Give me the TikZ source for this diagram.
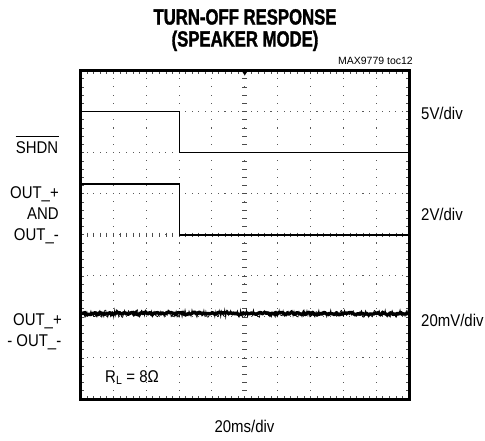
\documentclass[tikz,border=0pt]{standalone}
\usepackage{fontspec}
\setmainfont{Liberation Sans}
\newfontfamily\lblfont[FakeStretch=0.88]{Liberation Sans}
\newfontfamily\ttlfont[FakeStretch=0.76,BoldFeatures={FakeBold=1.5}]{Liberation Sans}
\tikzset{
  lbl/.style={inner sep=0pt, font=\lblfont\fontsize{17}{19}\selectfont},
  ttl/.style={inner sep=0pt, font=\ttlfont\bfseries\fontsize{22}{24}\selectfont},
  small/.style={inner sep=0pt, font=\fontsize{10.5}{12}\selectfont},
  trace/.style={line width=1.4pt, black},
  frame/.style={line width=3pt, black},
  tick/.style={line width=0.6pt, black!70},
}
\begin{document}
\begin{tikzpicture}[x=1pt, y=-1pt]
\useasboundingbox (0,0) rectangle (485,440);
\def\L{80.5}\def\R{409}\def\T{70.5}\def\B{399}
% grid dots
\foreach \k in {1,...,7}{
  \pgfmathsetmacro\yy{\T+\k*(\B-\T)/8}
  \foreach \m in {1,...,49}{
    \pgfmathsetmacro\xx{\L+\m*(\R-\L)/50}
    \fill[black!65] (\xx-0.55,\yy-0.55) rectangle (\xx+0.55,\yy+0.55);
  }
}
\foreach \k in {1,...,9}{
  \pgfmathsetmacro\xx{\L+\k*(\R-\L)/10}
  \foreach \m in {1,...,39}{
    \pgfmathsetmacro\yy{\T+\m*(\B-\T)/40}
    \fill[black!65] (\xx-0.55,\yy-0.55) rectangle (\xx+0.55,\yy+0.55);
  }
}
% center axis ticks
\pgfmathsetmacro\cx{(\L+\R)/2}
\pgfmathsetmacro\cy{(\T+\B)/2}
\foreach \m in {1,...,39}{
  \pgfmathsetmacro\yy{\T+\m*(\B-\T)/40}
  \draw[tick] (\cx-2.5,\yy) -- (\cx+2.5,\yy);
}
\foreach \m in {1,...,49}{
  \pgfmathsetmacro\xx{\L+\m*(\R-\L)/50}
  \draw[tick] (\xx,\cy-2.2) -- (\xx,\cy+2.2);
}
% frame ticks
\foreach \m in {1,...,49}{
  \pgfmathsetmacro\xx{\L+\m*(\R-\L)/50}
  \draw[tick] (\xx,\T) -- (\xx,\T+3.5);
  \draw[tick] (\xx,\B) -- (\xx,\B-3.5);
}
\foreach \m in {1,...,39}{
  \pgfmathsetmacro\yy{\T+\m*(\B-\T)/40}
  \draw[tick] (\L,\yy) -- (\L+3.5,\yy);
  \draw[tick] (\R,\yy) -- (\R-3.5,\yy);
}
% traces
\draw[trace] (\L,111.5) -- (179.3,111.5) -- (179.3,152.5) -- (\R,152.5);
\draw[trace] (\L,184) -- (179.3,184) -- (179.3,234.8) -- (\R,234.8);
% noise trace
\pgfmathsetseed{42}
\draw[line width=3.4pt, line join=round] plot[domain=82:408, samples=220] (\x,{313.5+1.3*rand});
\pgfmathsetseed{7}
\draw[line width=0.7pt] plot[domain=82:408, samples=330] (\x,{313.5+3.8*rand});
% frame
\draw[frame] (\L,\T) rectangle (\R,\B);
% top marker
\fill (\cx-3.2,\T) -- (\cx+3.2,\T) -- (\cx,\T+5) -- cycle;
% titles
\node[ttl, anchor=base] (t1) at (245,24.5) {TURN-OFF RESPONSE};
\node[ttl, anchor=base] (t2) at (245,46.5) {(SPEAKER MODE)};
\node[small, anchor=base east] (toc) at (413,64) {MAX9779 toc12};
% left labels
\node[lbl, anchor=base east] (shdn) at (58.5,153) {SHDN};
\draw[line width=0.8pt] ([yshift=5pt]shdn.north west) -- ([yshift=5pt]shdn.north east);
\node[lbl, anchor=base east] (o1) at (59,198) {OUT\_+};
\node[lbl, anchor=base east] (and) at (59,219) {AND};
\node[lbl, anchor=base east] (o2) at (59,240) {OUT\_-};
\node[lbl, anchor=base east] (o3) at (62,325) {OUT\_+};
\node[lbl, anchor=base east] (o4) at (61.5,346) {- OUT\_-};
% right labels
\node[lbl, anchor=base west] (v5) at (421,119.5) {5V/div};
\node[lbl, anchor=base west] (v2) at (421,220) {2V/div};
\node[lbl, anchor=base west] (v20) at (421,326) {20mV/div};
% inside label
\node[lbl, anchor=base west] (rl) at (105,382) {R\textsubscript{L} = 8Ω};
% time base
\node[lbl, anchor=base] (tb) at (244.5,432) {20ms/div};
\end{tikzpicture}
\end{document}
